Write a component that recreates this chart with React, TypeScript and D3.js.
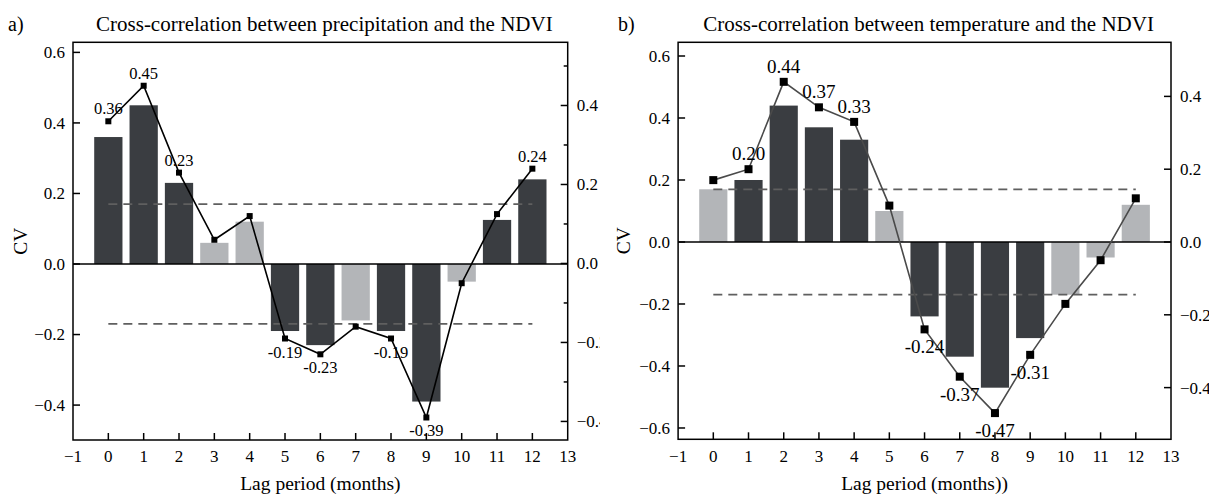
import React from "react";
import * as d3 from "d3";

const lags = [0, 1, 2, 3, 4, 5, 6, 7, 8, 9, 10, 11, 12];
const xTickValues = [-1, 0, 1, 2, 3, 4, 5, 6, 7, 8, 9, 10, 11, 12, 13];

const precipCV = [0.36, 0.45, 0.23, 0.06, 0.12, -0.19, -0.23, -0.16, -0.19, -0.39, -0.05, 0.125, 0.24];
const precipSignificant = [true, true, true, false, false, true, true, false, true, true, false, true, true];
const precipLabels = ["0.36", "0.45", "0.23", "", "", "-0.19", "-0.23", "", "-0.19", "-0.39", "", "", "0.24"];

const tempCV = [0.17, 0.2, 0.44, 0.37, 0.33, 0.1, -0.24, -0.37, -0.47, -0.31, -0.17, -0.05, 0.12];
const tempSignificant = [false, true, true, true, true, false, true, true, true, true, false, false, false];
const tempLabels = ["", "0.20", "0.44", "0.37", "0.33", "", "-0.24", "-0.37", "-0.47", "-0.31", "", "", ""];

const precipLeftTicks = [-0.4, -0.2, 0.0, 0.2, 0.4, 0.6];
const precipRightTicks = [-0.4, -0.2, 0.0, 0.2, 0.4];
const precipRightMinor = [-0.3, -0.1, 0.1, 0.3, 0.5];
const tempLeftTicks = [-0.6, -0.4, -0.2, 0.0, 0.2, 0.4, 0.6];
const tempRightTicks = [-0.4, -0.2, 0.0, 0.2, 0.4];
const tempRightMinor: number[] = [];

const significanceLevel = 0.17;

const FONT = "'Liberation Serif', 'Times New Roman', serif";
const DARK = "#3a3d41";
const LIGHT = "#b3b5b8";

const fmt = (v: number) => (v < 0 ? "\u2212" : "") + Math.abs(v).toFixed(1);

type Cfg = {
  id: string;
  letter: string;
  letterX: number;
  title: string;
  xLabel: string;
  x0: number;
  x1: number;
  y0: number;
  y1: number;
  leftDomain: [number, number];
  rightDomain: [number, number];
  values: number[];
  significant: boolean[];
  labels: string[];
  leftTicks: number[];
  rightTicks: number[];
  rightMinor: number[];
  cvX: number;
  lineColor: string;
  markerSize: number;
  labelSize: number;
  posOffset: number;
  negOffset: number;
  clipRight: number;
};

function Panel({ cfg }: { cfg: Cfg }) {
  const x = d3.scaleLinear().domain([-1, 13]).range([cfg.x0, cfg.x1]);
  const yL = d3.scaleLinear().domain(cfg.leftDomain).range([cfg.y1, cfg.y0]);
  const yR = d3.scaleLinear().domain(cfg.rightDomain).range([cfg.y1, cfg.y0]);
  const bw = (x(1) - x(0)) * 0.8;
  const line = d3
    .line<number>()
    .x((_, i) => x(lags[i]))
    .y((d) => yR(d));
  const cx = (cfg.x0 + cfg.x1) / 2;
  const cy = (cfg.y0 + cfg.y1) / 2;
  const tickLen = 7;
  return (
    <g clipPath={`url(#clip-${cfg.id})`}>
      <defs>
        <clipPath id={`clip-${cfg.id}`}>
          <rect x={cfg.x0 - 80} y={0} width={cfg.clipRight - (cfg.x0 - 80)} height={498} />
        </clipPath>
      </defs>
      <text x={cfg.letterX} y={31} fontSize={20} fontFamily={FONT}>
        {cfg.letter}
      </text>
      <text x={cx + 4} y={31} fontSize={21} fontFamily={FONT} textAnchor="middle">
        {cfg.title}
      </text>
      {/* bars */}
      {cfg.values.map((v, i) => (
        <rect
          key={"b" + i}
          x={x(lags[i]) - bw / 2}
          y={Math.min(yL(v), yL(0))}
          width={bw}
          height={Math.abs(yL(v) - yL(0))}
          fill={cfg.significant[i] ? DARK : LIGHT}
        />
      ))}
      {/* significance dashed lines */}
      {[significanceLevel, -significanceLevel].map((s, i) => (
        <line
          key={"d" + i}
          x1={x(0)}
          x2={x(12)}
          y1={yL(s)}
          y2={yL(s)}
          stroke="#5f5f5f"
          strokeWidth={1.8}
          strokeDasharray="9 6"
        />
      ))}
      {/* zero line */}
      <line x1={cfg.x0} x2={cfg.x1} y1={yL(0)} y2={yL(0)} stroke="#000" strokeWidth={1.5} />
      {/* line series on right axis */}
      <path d={line(cfg.values) || ""} fill="none" stroke={cfg.lineColor} strokeWidth={1.6} />
      {cfg.values.map((v, i) => (
        <rect
          key={"m" + i}
          x={x(lags[i]) - cfg.markerSize / 2}
          y={yR(v) - cfg.markerSize / 2}
          width={cfg.markerSize}
          height={cfg.markerSize}
          fill="#000"
        />
      ))}
      {cfg.values.map((v, i) =>
        cfg.labels[i] ? (
          <text
            key={"l" + i}
            x={x(lags[i])}
            y={v >= 0 ? yR(v) - cfg.posOffset : yR(v) + cfg.negOffset}
            fontSize={cfg.labelSize}
            fontFamily={FONT}
            textAnchor="middle"
          >
            {cfg.labels[i]}
          </text>
        ) : null
      )}
      {/* frame */}
      <rect
        x={cfg.x0}
        y={cfg.y0}
        width={cfg.x1 - cfg.x0}
        height={cfg.y1 - cfg.y0}
        fill="none"
        stroke="#000"
        strokeWidth={1.5}
      />
      {/* left axis */}
      {cfg.leftTicks.map((t) => (
        <g key={"lt" + t}>
          <line x1={cfg.x0} x2={cfg.x0 + tickLen} y1={yL(t)} y2={yL(t)} stroke="#000" strokeWidth={1.5} />
          <text
            x={cfg.x0 - 8}
            y={yL(t)}
            dy="0.35em"
            fontSize={17}
            fontFamily={FONT}
            textAnchor="end"
          >
            {fmt(t)}
          </text>
        </g>
      ))}
      {/* right axis */}
      {cfg.rightTicks.map((t) => (
        <g key={"rt" + t}>
          <line x1={cfg.x1 - tickLen} x2={cfg.x1} y1={yR(t)} y2={yR(t)} stroke="#000" strokeWidth={1.5} />
          <text x={cfg.x1 + 9} y={yR(t)} dy="0.35em" fontSize={17} fontFamily={FONT} textAnchor="start">
            {fmt(t)}
          </text>
        </g>
      ))}
      {cfg.rightMinor.map((t) => (
        <line
          key={"rm" + t}
          x1={cfg.x1 - 4}
          x2={cfg.x1}
          y1={yR(t)}
          y2={yR(t)}
          stroke="#000"
          strokeWidth={1.5}
        />
      ))}
      {/* x axis */}
      {xTickValues.map((t) => (
        <g key={"xt" + t}>
          {t > -1 && t < 13 ? (
            <line x1={x(t)} x2={x(t)} y1={cfg.y1} y2={cfg.y1 - tickLen} stroke="#000" strokeWidth={1.5} />
          ) : null}
          <text x={x(t)} y={462} fontSize={17} fontFamily={FONT} textAnchor="middle">
            {t < 0 ? "\u2212" + Math.abs(t) : String(t)}
          </text>
        </g>
      ))}
      <text x={cx} y={490} fontSize={19.5} fontFamily={FONT} textAnchor="middle">
        {cfg.xLabel}
      </text>
      <text
        transform={`translate(${cfg.cvX},${cy}) rotate(-90)`}
        fontSize={19.5}
        fontFamily={FONT}
        textAnchor="middle"
      >
        CV
      </text>
    </g>
  );
}

const leftCfg: Cfg = {
  id: "a",
  letter: "a)",
  letterX: 8,
  title: "Cross-correlation between precipitation and the NDVI",
  xLabel: "Lag period (months)",
  x0: 73,
  x1: 567.7,
  y0: 42.3,
  y1: 440,
  leftDomain: [-0.499, 0.6286],
  rightDomain: [-0.447, 0.56],
  values: precipCV,
  significant: precipSignificant,
  labels: precipLabels,
  leftTicks: precipLeftTicks,
  rightTicks: precipRightTicks,
  rightMinor: precipRightMinor,
  cvX: 27,
  lineColor: "#000",
  markerSize: 6,
  labelSize: 16.5,
  posOffset: 7,
  negOffset: 19,
  clipRight: 600,
};

const rightCfg: Cfg = {
  id: "b",
  letter: "b)",
  letterX: 618,
  title: "Cross-correlation between temperature and the NDVI",
  xLabel: "Lag period (months))",
  x0: 678.1,
  x1: 1171,
  y0: 42.3,
  y1: 439.3,
  leftDomain: [-0.6365, 0.6442],
  rightDomain: [-0.542, 0.5486],
  values: tempCV,
  significant: tempSignificant,
  labels: tempLabels,
  leftTicks: tempLeftTicks,
  rightTicks: tempRightTicks,
  rightMinor: tempRightMinor,
  cvX: 630,
  lineColor: "#4a4a4a",
  markerSize: 8,
  labelSize: 19,
  posOffset: 9,
  negOffset: 24,
  clipRight: 1209,
};

export default function App() {
  return (
    <svg
      width={1209}
      height={498}
      style={{ position: "absolute", left: 0, top: 0, background: "#fff" }}
    >
      <rect x={0} y={0} width={1209} height={498} fill="#fff" />
      <Panel cfg={leftCfg} />
      <Panel cfg={rightCfg} />
    </svg>
  );
}
